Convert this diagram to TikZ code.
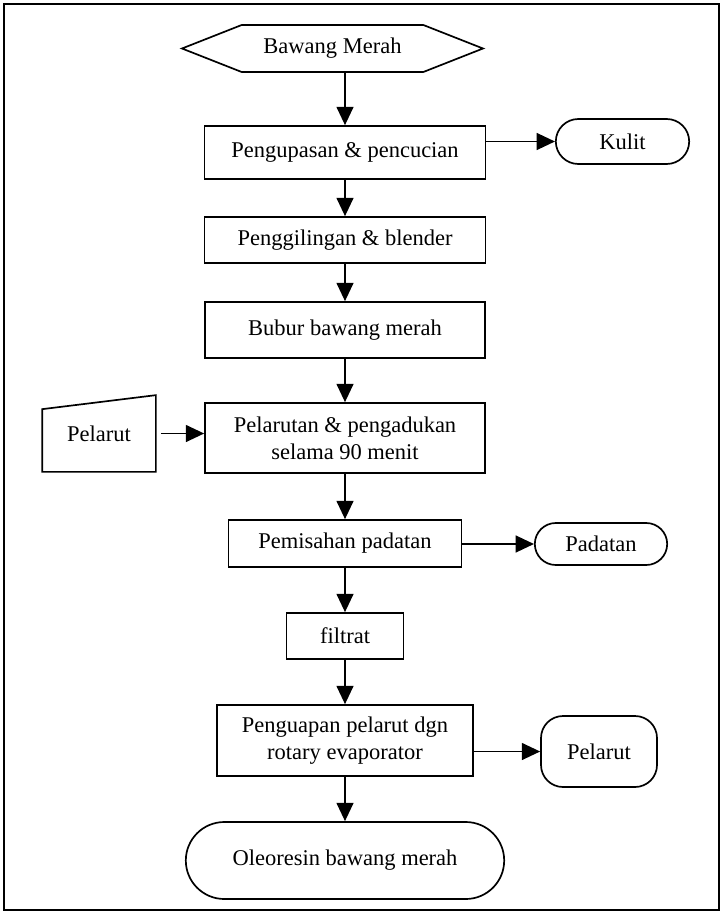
\documentclass[tikz,border=0pt]{standalone}
\usepackage{fontspec}
\setmainfont{Liberation Serif}
\usetikzlibrary{shapes.misc,shapes.symbols,arrows.meta}
\newcommand{\pxu}{0.025cm}

\begin{document}
\begin{tikzpicture}[x=0.025cm,y=-0.025cm,
    every node/.style={font=\fontsize{16}{19}\selectfont,align=center,line width=1.2pt},
    proses/.style={draw,rectangle,inner sep=2pt},
    ujung/.style={draw,rounded rectangle,inner sep=2pt},
    arr/.style={line width=1.2pt,-{Triangle[length=13pt,width=12pt]}}]
  \useasboundingbox (0,0) rectangle (721,913);
  \draw[line width=1.3pt] (4,4) rectangle (719,910);

  \node[draw,signal,signal to=west and east,signal pointer angle=43,
        minimum width=301*\pxu,minimum height=47*\pxu] (bawang) at (332.5,48.5) {Bawang Merah};

  \node[proses,minimum width=281*\pxu,minimum height=53*\pxu] (kupas) at (345,152.5) {Pengupasan \& pencucian};
  \node[proses,minimum width=281*\pxu,minimum height=46*\pxu] (giling) at (345,240) {Penggilingan \& blender};
  \node[proses,minimum width=280*\pxu,minimum height=56*\pxu] (bubur) at (345,330) {Bubur bawang merah};
  \node[proses,minimum width=280*\pxu,minimum height=70*\pxu] (larut) at (345,438) {Pelarutan \& pengadukan\\selama 90 menit};
  \node[proses,minimum width=233*\pxu,minimum height=47*\pxu] (pisah) at (345,543.5) {Pemisahan padatan};
  \node[proses,minimum width=117*\pxu,minimum height=46*\pxu] (filtrat) at (345,636) {filtrat};
  \node[proses,minimum width=256*\pxu,minimum height=71*\pxu] (uap) at (345,740.5) {Penguapan pelarut dgn\\rotary evaporator};
  \node[ujung,minimum width=324*\pxu,minimum height=77*\pxu] (oleo) at (345,860.5) {Oleoresin bawang merah};

  \node[ujung,minimum width=139*\pxu,minimum height=45*\pxu] (kulit) at (622.5,141.5) {Kulit};
  \node[ujung,minimum width=138*\pxu,minimum height=42*\pxu] (padatan) at (601,544) {Padatan};
  \node[draw,rectangle,rounded corners=22*\pxu,minimum width=116*\pxu,minimum height=71*\pxu] (pelout) at (599,751.5) {Pelarut};

  % input manual
  \node[minimum width=112*\pxu,minimum height=75*\pxu] (pelin) at (99,433.5) {Pelarut};
  \draw[line width=1.2pt] (pelin.south west) -- (pelin.south east) -- (pelin.north east)
    -- ([yshift=-14*\pxu]pelin.north west) -- cycle;

  \draw[arr] (bawang.south -| kupas.north) -- (kupas.north);
  \foreach \a/\b in {kupas/giling,giling/bubur,bubur/larut,larut/pisah,pisah/filtrat,filtrat/uap,uap/oleo} {
    \draw[arr] (\a.south) -- (\b.north);
  }

  \draw[arr] (kulit.west -| kupas.east) -- (kulit.west);
  \draw[arr] (padatan.west -| pisah.east) -- (padatan.west);
  \draw[arr] (pelout.west -| uap.east) -- (pelout.west);
  \draw[arr,shorten <=5*\pxu] (pelin.east) -- (pelin.east -| larut.west);
\end{tikzpicture}
\end{document}
